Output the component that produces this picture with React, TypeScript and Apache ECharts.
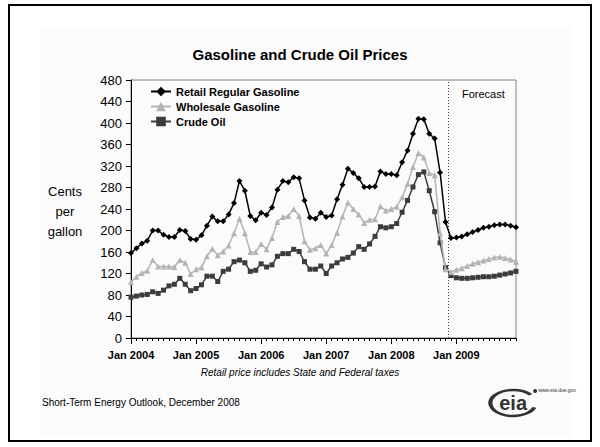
import React, { useEffect, useRef } from "react";
import * as echarts from "echarts";

// Monthly prices, cents per gallon, Jan 2004 – Dec 2009 (Dec 2008 onward is forecast)
const YEARS = [2004, 2005, 2006, 2007, 2008, 2009];
const MONTH_NAMES = ["Jan", "Feb", "Mar", "Apr", "May", "Jun", "Jul", "Aug", "Sep", "Oct", "Nov", "Dec"];
const MONTHS = YEARS.flatMap((y) => MONTH_NAMES.map((m) => `${m} ${y}`));

const RETAIL = [
  158, 167, 176, 181, 200, 200, 192, 188, 188, 201, 199, 184,
  183, 191, 209, 226, 217, 217, 230, 251, 292, 274, 227, 219,
  233, 229, 243, 276, 292, 290, 299, 297, 256, 224, 222, 233,
  225, 228, 258, 285, 315, 307, 297, 281, 281, 282, 310, 305,
  305, 303, 327, 349, 380, 408, 407, 380, 371, 308, 216, 186,
  187, 189, 193, 197, 201, 205, 207, 210, 211, 211, 209, 206,
];

const WHOLESALE = [
  104, 114, 121, 125, 145, 133, 133, 133, 132, 145, 140, 119,
  128, 131, 152, 166, 154, 161, 172, 195, 222, 195, 160, 160,
  175, 165, 186, 216, 225, 227, 240, 227, 180, 164, 167, 173,
  157, 173, 196, 226, 252, 240, 230, 214, 220, 221, 245, 237,
  240, 244, 262, 287, 318, 344, 336, 307, 303, 195, 128, 123,
  127, 130, 134, 138, 141, 144, 147, 150, 151, 149, 146, 142,
];

const CRUDE = [
  76, 78, 80, 81, 86, 83, 89, 97, 100, 111, 100, 88,
  92, 99, 115, 115, 105, 124, 128, 142, 145, 140, 124, 126,
  138, 132, 136, 152, 157, 157, 165, 161, 142, 128, 128, 134,
  120, 134, 140, 147, 150, 158, 170, 165, 175, 189, 207, 205,
  207, 213, 234, 256, 281, 304, 309, 274, 235, 177, 131, 116,
  112, 111, 111, 112, 113, 114, 114, 115, 117, 119, 121, 124,
];

const Y_TICKS = { min: 0, max: 480, interval: 40 };
const FORECAST_START = MONTHS.indexOf("Dec 2008");

const SERIES_NAMES = ["Retail Regular Gasoline", "Wholesale Gasoline", "Crude Oil"];

const ARIAL = "'Liberation Sans', Arial, sans-serif";

export default function App() {
  const ref = useRef<HTMLDivElement>(null);

  useEffect(() => {
    if (!ref.current) return;
    const chart = echarts.init(ref.current, undefined, { renderer: "svg" });

    const lineSeries = (name: string, data: number[], color: string, symbol: string, size: number, z: number) => ({
      name,
      type: "line",
      data,
      symbol,
      symbolSize: size,
      showSymbol: true,
      showAllSymbol: true,
      z,
      lineStyle: { color, width: 1.5 },
      itemStyle: { color, borderWidth: 0 },
    });

    chart.setOption({
      animation: false,
      backgroundColor: "#ffffff",
      title: {
        text: "Gasoline and Crude Oil Prices",
        left: "center",
        top: 47,
        padding: 0,
        textStyle: { fontFamily: ARIAL, fontSize: 15, fontWeight: "bold", color: "#000" },
      },
      legend: {
        data: SERIES_NAMES,
        orient: "vertical",
        left: 150,
        top: 86,
        itemWidth: 20,
        itemHeight: 12,
        itemGap: 4,
        padding: 0,
        textStyle: { fontFamily: ARIAL, fontSize: 11, fontWeight: "bold", color: "#000" },
      },
      grid: {
        left: 131,
        right: 84,
        top: 80,
        bottom: 109,
        show: true,
        borderColor: "#808080",
        borderWidth: 1,
        backgroundColor: "transparent",
      },
      xAxis: [
        {
          type: "category",
          data: MONTHS,
          boundaryGap: false,
          axisLine: { lineStyle: { color: "#000", width: 1 } },
          axisTick: { interval: 0, length: 3, lineStyle: { color: "#000" } },
          axisLabel: {
            interval: (i: number) => i % 12 === 0,
            margin: 11,
            fontFamily: ARIAL,
            fontSize: 11,
            fontWeight: "bold",
            color: "#000",
          },
          splitLine: { show: false },
        },
        {
          type: "category",
          data: MONTHS,
          boundaryGap: false,
          position: "bottom",
          axisLine: { show: false },
          axisTick: { interval: (i: number) => i % 12 === 0, length: 6, lineStyle: { color: "#000" } },
          axisLabel: { show: false },
          splitLine: { show: false },
        },
        {
          type: "value",
          min: 0,
          max: MONTHS.length - 1,
          show: false,
        },
      ],
      yAxis: {
        type: "value",
        min: Y_TICKS.min,
        max: Y_TICKS.max,
        interval: Y_TICKS.interval,
        axisLine: { show: true, lineStyle: { color: "#000", width: 1 } },
        axisTick: { show: true, length: 5, lineStyle: { color: "#000" } },
        axisLabel: { margin: 9, fontFamily: ARIAL, fontSize: 13, color: "#000" },
        splitLine: { show: false },
      },
      series: [
        lineSeries(SERIES_NAMES[2], CRUDE, "#3c3c3c", "rect", 5, 3),
        lineSeries(SERIES_NAMES[1], WHOLESALE, "#b4b4b4", "triangle", 6, 4),
        lineSeries(SERIES_NAMES[0], RETAIL, "#000000", "diamond", 6, 5),
        {
          // forecast divider, halfway between the last history month and the first forecast month
          name: "divider",
          type: "line",
          xAxisIndex: 2,
          data: [],
          silent: true,
          markLine: {
            silent: true,
            symbol: ["none", "none"],
            label: { show: false },
            lineStyle: { type: [1, 2], color: "#444", width: 1 },
            data: [{ xAxis: FORECAST_START - 0.5 }],
          },
        },
      ],
      graphic: [
        {
          type: "rect",
          z: -5,
          shape: { x: 40, y: 27, width: 531, height: 410 },
          style: { fill: "#fbfbfb", stroke: "none" },
        },
        {
          type: "rect",
          z: 10,
          shape: { x: 9, y: 5, width: 582, height: 436 },
          style: { fill: "none", stroke: "#000", lineWidth: 2 },
        },
        {
          type: "text",
          x: 65,
          y: 181,
          style: {
            text: "Cents\nper\ngallon",
            fontFamily: ARIAL,
            fontSize: 13,
            lineHeight: 20,
            fill: "#000",
            align: "center",
            verticalAlign: "top",
          },
        },
        {
          type: "text",
          left: 462,
          top: 88,
          style: { text: "Forecast", fontFamily: ARIAL, fontSize: 11, fill: "#000" },
        },
        {
          type: "text",
          left: "center",
          top: 367,
          style: {
            text: "Retail price includes State and Federal taxes",
            fontFamily: ARIAL,
            fontSize: 10,
            fontStyle: "italic",
            fill: "#000",
          },
        },
        {
          type: "text",
          left: 42,
          top: 397,
          style: {
            text: "Short-Term Energy Outlook, December 2008",
            fontFamily: ARIAL,
            fontSize: 10,
            fill: "#000",
          },
        },
        {
          type: "group",
          left: 486,
          top: 387,
          children: [
            {
              type: "arc",
              shape: { cx: 23, cy: 17, r: 13, startAngle: 0.35, endAngle: 5.6 },
              scaleX: 1.75,
              originX: 23,
              originY: 17,
              style: { stroke: "#333", lineWidth: 2.4, fill: "none" },
            },
            {
              type: "circle",
              shape: { cx: 45, cy: 5, r: 2 },
              style: { fill: "#333" },
            },
            {
              type: "text",
              x: 23,
              y: 17,
              style: {
                text: "eia",
                fontFamily: ARIAL,
                fontSize: 20,
                fontWeight: "bold",
                fill: "#333",
                align: "center",
                verticalAlign: "middle",
              },
            },
            {
              type: "text",
              x: 48,
              y: 1,
              style: { text: "www.eia.doe.gov", fontFamily: ARIAL, fontSize: 5, fill: "#333" },
            },
          ],
        },
      ],
    });

    return () => chart.dispose();
  }, []);

  return (
    <div
      ref={ref}
      style={{ position: "absolute", left: 0, top: 0, width: 600, height: 447 }}
    />
  );
}
